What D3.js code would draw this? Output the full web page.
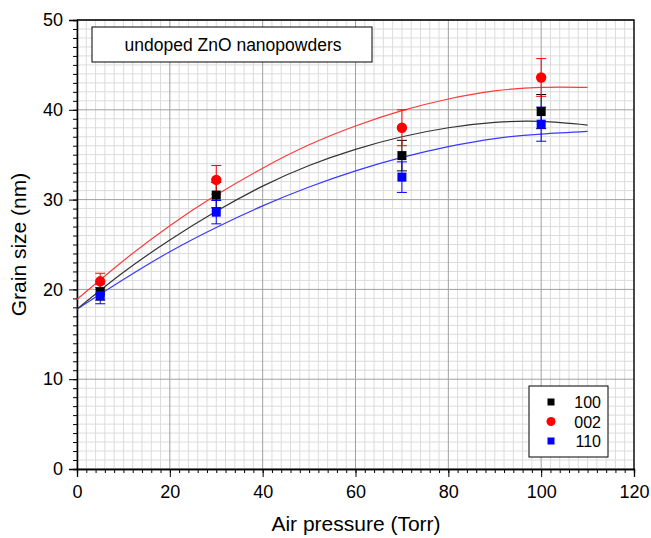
<!DOCTYPE html>
<html>
<head>
<meta charset="utf-8">
<script src="https://cdn.jsdelivr.net/npm/d3@7"></script>
<style>
  body { margin: 0; background: #fff; }
  text { font-family: "Liberation Sans", Arial, sans-serif; }
</style>
</head>
<body>
<div id="chart"></div>
<script>
// measured data
const pressures = [5, 30, 70, 100];
const grain100 = [19.7, 30.5, 34.9, 39.8];
const grain002 = [20.9, 32.2, 38.0, 43.6];
const grain110 = [19.3, 28.6, 32.5, 38.4];
const err100 = [0.9, 1.4, 1.7, 1.9];
const err002 = [0.9, 1.6, 2.0, 2.1];
const err110 = [0.9, 1.3, 1.7, 1.9];

// fit curves
const fitX = [0, 10, 20, 30, 40, 50, 60, 70, 80, 90, 100, 110];
const fit100 = [17.8, 21.9, 25.5, 28.7, 31.5, 33.8, 35.6, 37.0, 38.0, 38.6, 38.7, 38.3];
const fit002 = [18.9, 23.2, 27.1, 30.5, 33.5, 36.1, 38.2, 39.9, 41.2, 42.1, 42.5, 42.5];
const fit110 = [17.8, 21.1, 24.2, 26.9, 29.3, 31.4, 33.2, 34.7, 35.9, 36.8, 37.3, 37.6];

const xTicks = [0, 20, 40, 60, 80, 100, 120];
const yTicks = [0, 10, 20, 30, 40, 50];

const width = 651, height = 538;
const margin = { left: 77, right: 17, top: 20, bottom: 69 };

const svg = d3.select("#chart").append("svg")
  .attr("width", width)
  .attr("height", height);

const x = d3.scaleLinear().domain([0, 120]).range([margin.left, width - margin.right]);
const y = d3.scaleLinear().domain([0, 50]).range([height - margin.bottom, margin.top]);

// minor grid
svg.append("g").selectAll("line")
  .data(d3.range(0, 121, 2).filter(v => v % 20 !== 0))
  .enter().append("line")
  .attr("x1", d => x(d)).attr("x2", d => x(d))
  .attr("y1", y(0)).attr("y2", y(50))
  .style("stroke", "#dcdcdc").style("stroke-width", 1);
svg.append("g").selectAll("line")
  .data(d3.range(0, 51, 1).filter(v => v % 10 !== 0))
  .enter().append("line")
  .attr("x1", x(0)).attr("x2", x(120))
  .attr("y1", d => y(d)).attr("y2", d => y(d))
  .style("stroke", "#dcdcdc").style("stroke-width", 1);

// major grid
svg.append("g").selectAll("line")
  .data(xTicks)
  .enter().append("line")
  .attr("x1", d => x(d)).attr("x2", d => x(d))
  .attr("y1", y(0)).attr("y2", y(50))
  .style("stroke", "#a0a0a0").style("stroke-width", 1);
svg.append("g").selectAll("line")
  .data(yTicks)
  .enter().append("line")
  .attr("x1", x(0)).attr("x2", x(120))
  .attr("y1", d => y(d)).attr("y2", d => y(d))
  .style("stroke", "#a0a0a0").style("stroke-width", 1);

// axes
const xAxis = svg.append("g")
  .attr("transform", `translate(0,${y(0)})`)
  .call(d3.axisBottom(x).tickValues(xTicks).tickSize(8).tickPadding(8));
svg.append("g")
  .attr("transform", `translate(0,${y(0)})`)
  .call(d3.axisBottom(x).tickValues(d3.range(0, 121, 2)).tickSize(4).tickFormat(""));
const yAxis = svg.append("g")
  .attr("transform", `translate(${x(0)},0)`)
  .call(d3.axisLeft(y).tickValues(yTicks).tickSize(8).tickPadding(6));
svg.append("g")
  .attr("transform", `translate(${x(0)},0)`)
  .call(d3.axisLeft(y).tickValues(d3.range(0, 51, 1)).tickSize(4).tickFormat(""));

svg.selectAll(".domain").style("stroke", "#000").style("stroke-width", 1.3);
svg.selectAll(".tick line").style("stroke", "#000");
xAxis.selectAll("text").style("font-size", "18px").attr("fill", "#000");
yAxis.selectAll("text").style("font-size", "18px").attr("fill", "#000");

// frame top & right
svg.append("path")
  .attr("d", `M${x(0)},${y(50)}H${x(120)}V${y(0)}`)
  .style("fill", "none").style("stroke", "#000").style("stroke-width", 1.3);

// fit lines
const fits = [
  { vals: fit110, color: "#3a3aff" },
  { vals: fit100, color: "#333333" },
  { vals: fit002, color: "#ff3a3a" }
];
const line = d3.line()
  .x((d, i) => x(fitX[i]))
  .y(d => y(d))
  .curve(d3.curveNatural);
fits.forEach(f => {
  svg.append("path")
    .attr("d", line(f.vals))
    .style("fill", "none")
    .style("stroke", f.color)
    .style("stroke-width", 1.2);
});

// data with error bars
const series = [
  { name: "100", vals: grain100, errs: err100, color: "#000000", shape: "square" },
  { name: "002", vals: grain002, errs: err002, color: "#ff0000", shape: "circle" },
  { name: "110", vals: grain110, errs: err110, color: "#0000ff", shape: "square" }
];

series.forEach(s => {
  const g = svg.append("g");
  pressures.forEach((p, i) => {
    const cx = x(p), top = y(s.vals[i] + s.errs[i]), bot = y(s.vals[i] - s.errs[i]);
    g.append("line").attr("x1", cx).attr("x2", cx).attr("y1", top).attr("y2", bot)
      .style("stroke", s.color).style("stroke-width", 1);
    [top, bot].forEach(yy => {
      g.append("line").attr("x1", cx - 5).attr("x2", cx + 5).attr("y1", yy).attr("y2", yy)
        .style("stroke", s.color).style("stroke-width", 1);
    });
  });
});
series.forEach(s => {
  const g = svg.append("g");
  pressures.forEach((p, i) => {
    if (s.shape === "circle") {
      g.append("circle").attr("cx", x(p)).attr("cy", y(s.vals[i])).attr("r", 5.2)
        .style("fill", s.color);
    } else {
      g.append("rect").attr("x", x(p) - 4.5).attr("y", y(s.vals[i]) - 4.5)
        .attr("width", 9).attr("height", 9).style("fill", s.color);
    }
  });
});

// title box
svg.append("rect")
  .attr("x", 92).attr("y", 27).attr("width", 280).attr("height", 35)
  .style("fill", "#fff").style("stroke", "#000").style("stroke-width", 1);
svg.append("text")
  .attr("x", 233).attr("y", 51)
  .attr("text-anchor", "middle")
  .style("font-size", "17.5px")
  .text("undoped ZnO nanopowders");

// legend
const legend = svg.append("g");
legend.append("rect")
  .attr("x", 529).attr("y", 386).attr("width", 79).attr("height", 71)
  .style("fill", "#fff").style("stroke", "#000").style("stroke-width", 1);
series.forEach((s, i) => {
  const ly = 402 + i * 19.5;
  if (s.shape === "circle") {
    legend.append("circle").attr("cx", 551).attr("cy", ly).attr("r", 4.5).style("fill", s.color);
  } else {
    legend.append("rect").attr("x", 547.5).attr("y", ly - 3.5).attr("width", 7).attr("height", 7)
      .style("fill", s.color);
  }
  legend.append("text")
    .attr("x", 601).attr("y", ly + 6)
    .attr("text-anchor", "end")
    .style("font-size", "16px")
    .text(s.name);
});

// axis titles
svg.append("text")
  .attr("x", 356).attr("y", 531)
  .attr("text-anchor", "middle")
  .style("font-size", "21px")
  .text("Air pressure (Torr)");
svg.append("text")
  .attr("transform", `translate(26,${(y(0) + y(50)) / 2}) rotate(-90)`)
  .attr("text-anchor", "middle")
  .style("font-size", "21px")
  .text("Grain size (nm)");
</script>
</body>
</html>
